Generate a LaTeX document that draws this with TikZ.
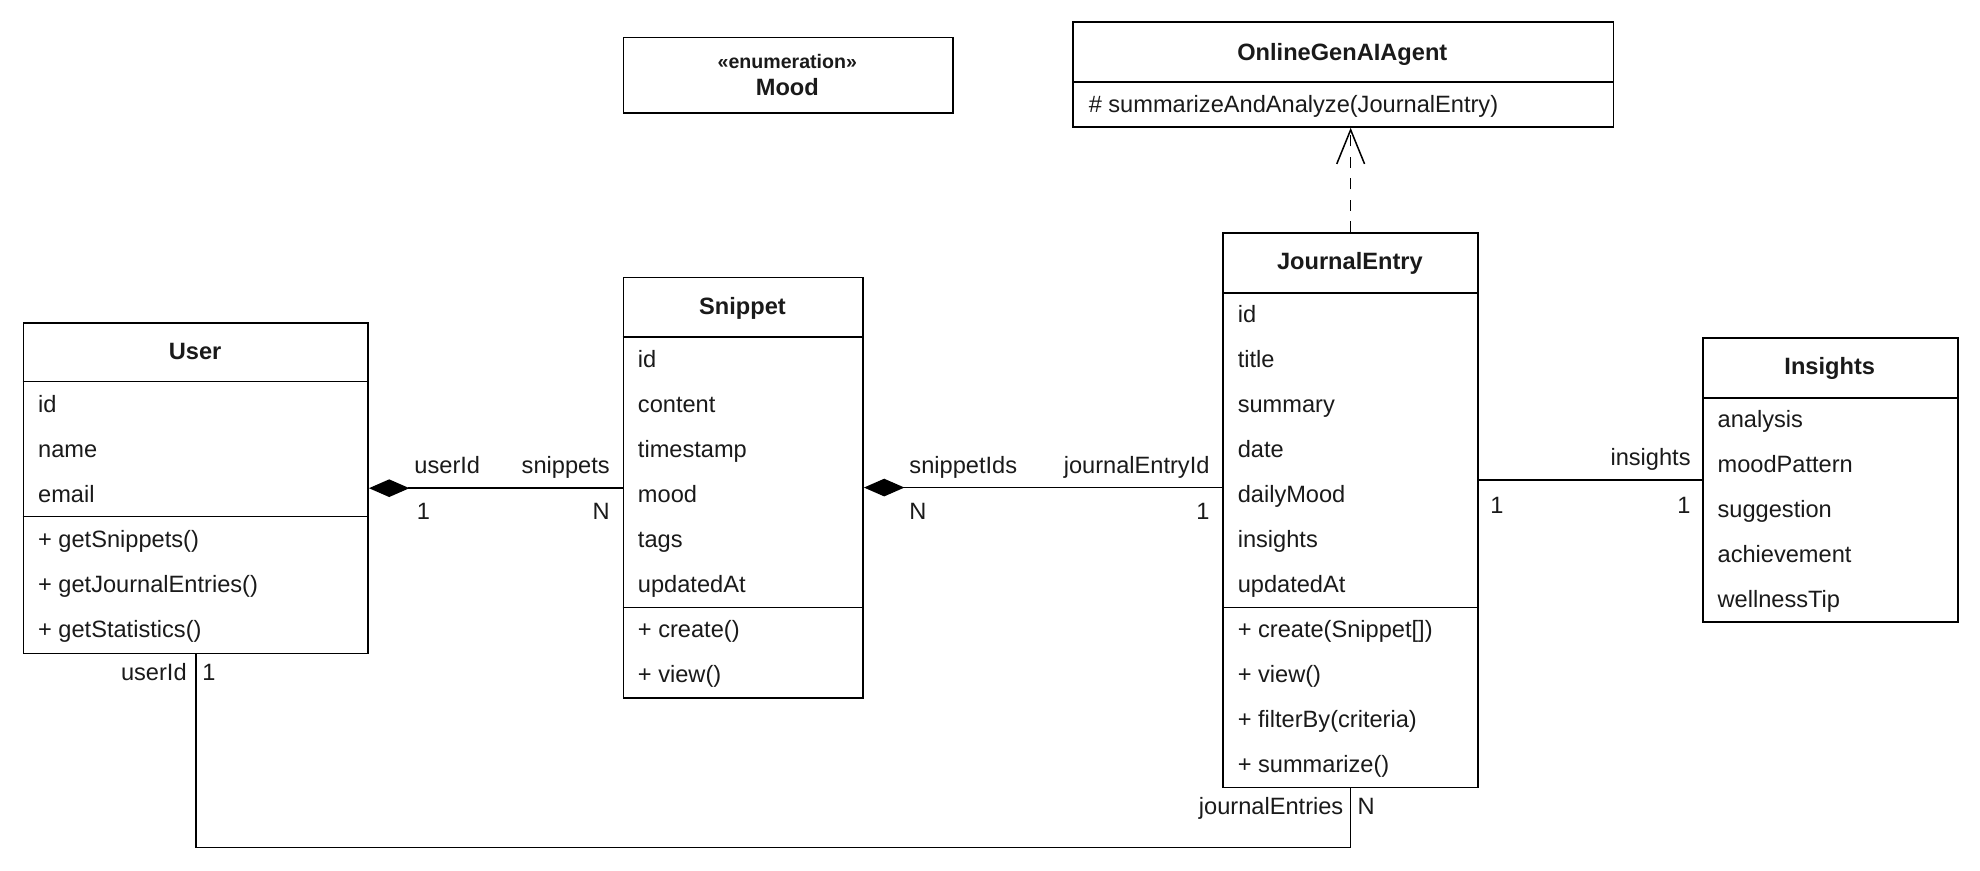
\documentclass[tikz,border=0pt]{standalone}
\usepackage{fontspec}
\setmainfont{Liberation Sans}
\usetikzlibrary{arrows.meta,calc}
\definecolor{txt}{HTML}{1A1A1A}
\tikzset{
  classbox/.style={draw=black, line width=1.2pt, anchor=north west, inner sep=0pt, fill=white},
  sepline/.style={draw=black, line width=1.2pt},
  attr/.style={anchor=west, inner sep=0pt, text height=13.4pt, text depth=0pt, text=txt, font=\fontsize{18.7}{22}\selectfont},
  lbleast/.style={attr, anchor=east},
  ttl/.style={anchor=center, inner sep=0pt, text height=13.4pt, text depth=0pt, text=txt, font=\fontsize{18.7}{22}\selectfont\bfseries},
  stereo/.style={anchor=center, inner sep=0pt, text height=11pt, text depth=0pt, text=txt, font=\fontsize{15.5}{18}\selectfont\bfseries},
  conn/.style={draw=black, line width=1.2pt},
  comp/.style={conn, {Diamond[length=32pt,width=14pt,fill=black]}-},
  realize/.style={conn, dash pattern=on 9pt off 8pt, -{Straight Barb[length=27pt,width=22pt]}}
}
\begin{document}
\begin{tikzpicture}[x=1pt,y=-1pt]
\useasboundingbox[fill=white] (0,0) rectangle (1568,689);

% ---------- Mood ----------
\node[classbox, minimum width=261pt, minimum height=60pt] (mood) at (493,29) {};
\node[stereo] (moodst) at (623.5,49) {«enumeration»};
\node[ttl] (moodt) at (623.5,69) {Mood};

% ---------- OnlineGenAIAgent ----------
\node[classbox, minimum width=428pt, minimum height=83pt] (agent) at (849,17) {};
\node[ttl] (agentt) at (1063,41) {OnlineGenAIAgent};
\draw[sepline] (849,65) -- (1277,65);
\node[attr] (agentm1) at (862,82) {\# summarizeAndAnalyze(JournalEntry)};

% ---------- User ----------
\node[classbox, minimum width=273pt, minimum height=262pt] (user) at (18,255) {};
\node[ttl] (usert) at (154.5,278) {User};
\draw[sepline] (18,302) -- (291,302);
\foreach \t [count=\i] in {id,name,email}
  \node[attr] (user-a\i) at (30,{320+35.6*(\i-1)}) {\t};
\draw[sepline] (18,409) -- (291,409);
\foreach \t [count=\i] in {+ getSnippets(),+ getJournalEntries(),+ getStatistics()}
  \node[attr] (user-m\i) at (30,{427+35.6*(\i-1)}) {\t};

% ---------- Snippet ----------
\node[classbox, minimum width=190pt, minimum height=333pt] (snip) at (493,219) {};
\node[ttl] (snipt) at (588,242) {Snippet};
\draw[sepline] (493,267) -- (683,267);
\foreach \t [count=\i] in {id,content,timestamp,mood,tags,updatedAt}
  \node[attr] (snip-a\i) at (505,{284.4+35.6*(\i-1)}) {\t};
\draw[sepline] (493,481) -- (683,481);
\foreach \t [count=\i] in {+ create(),+ view()}
  \node[attr] (snip-m\i) at (505,{498+35.6*(\i-1)}) {\t};

% ---------- JournalEntry ----------
\node[classbox, minimum width=202pt, minimum height=439pt] (je) at (968,184) {};
\node[ttl] (jet) at (1069,207) {JournalEntry};
\draw[sepline] (968,232) -- (1170,232);
\foreach \t [count=\i] in {id,title,summary,date,dailyMood,insights,updatedAt}
  \node[attr] (je-a\i) at (980,{248.8+35.6*(\i-1)}) {\t};
\draw[sepline] (968,481) -- (1170,481);
\foreach \t [count=\i] in {+ create(Snippet[]),+ view(),+ filterBy(criteria),+ summarize()}
  \node[attr] (je-m\i) at (980,{498+35.6*(\i-1)}) {\t};

% ---------- Insights ----------
\node[classbox, minimum width=202pt, minimum height=225pt] (ins) at (1348,267) {};
\node[ttl] (inst) at (1449,290) {Insights};
\draw[sepline] (1348,315) -- (1550,315);
\foreach \t [count=\i] in {analysis,moodPattern,suggestion,achievement,wellnessTip}
  \node[attr] (ins-a\i) at (1360,{332+35.6*(\i-1)}) {\t};

% ---------- Connectors ----------
% User -- Snippet (composition)
\draw[comp] (user.east) -- (user.east -| snip.west);
\node[attr] (l1a) at (328,368) {userId};
\node[lbleast] (l1b) at (483,368) {snippets};
\node[attr] (l1c) at (330,405) {1};
\node[lbleast] (l1d) at (483,405) {N};

% Snippet -- JournalEntry (composition)
\draw[comp] (snip.east) -- (snip.east -| je.west);
\node[attr] (l2a) at (720,368) {snippetIds};
\node[lbleast] (l2b) at (958,368) {journalEntryId};
\node[attr] (l2c) at (720,405) {N};
\node[lbleast] (l2d) at (958,405) {1};

% JournalEntry -- Insights
\draw[conn] (je.east |- ins.west) -- (ins.west);
\node[lbleast] (l3a) at (1339,362) {insights};
\node[attr] (l3b) at (1180,400) {1};
\node[lbleast] (l3c) at (1339,400) {1};

% User -- JournalEntry
\coordinate (bend) at ($(je.south)+(0,47)$);
\draw[conn] (user.south) |- (bend) -- (je.south);
\node[lbleast] (l4a) at (148,532) {userId};
\node[attr] (l4b) at (160,532) {1};
\node[lbleast] (l4c) at (1064,638) {journalEntries};
\node[attr] (l4d) at (1075,638) {N};

% JournalEntry realizes OnlineGenAIAgent
\draw[realize] (je.north) -- (je.north |- agent.south);
\end{tikzpicture}
\end{document}
